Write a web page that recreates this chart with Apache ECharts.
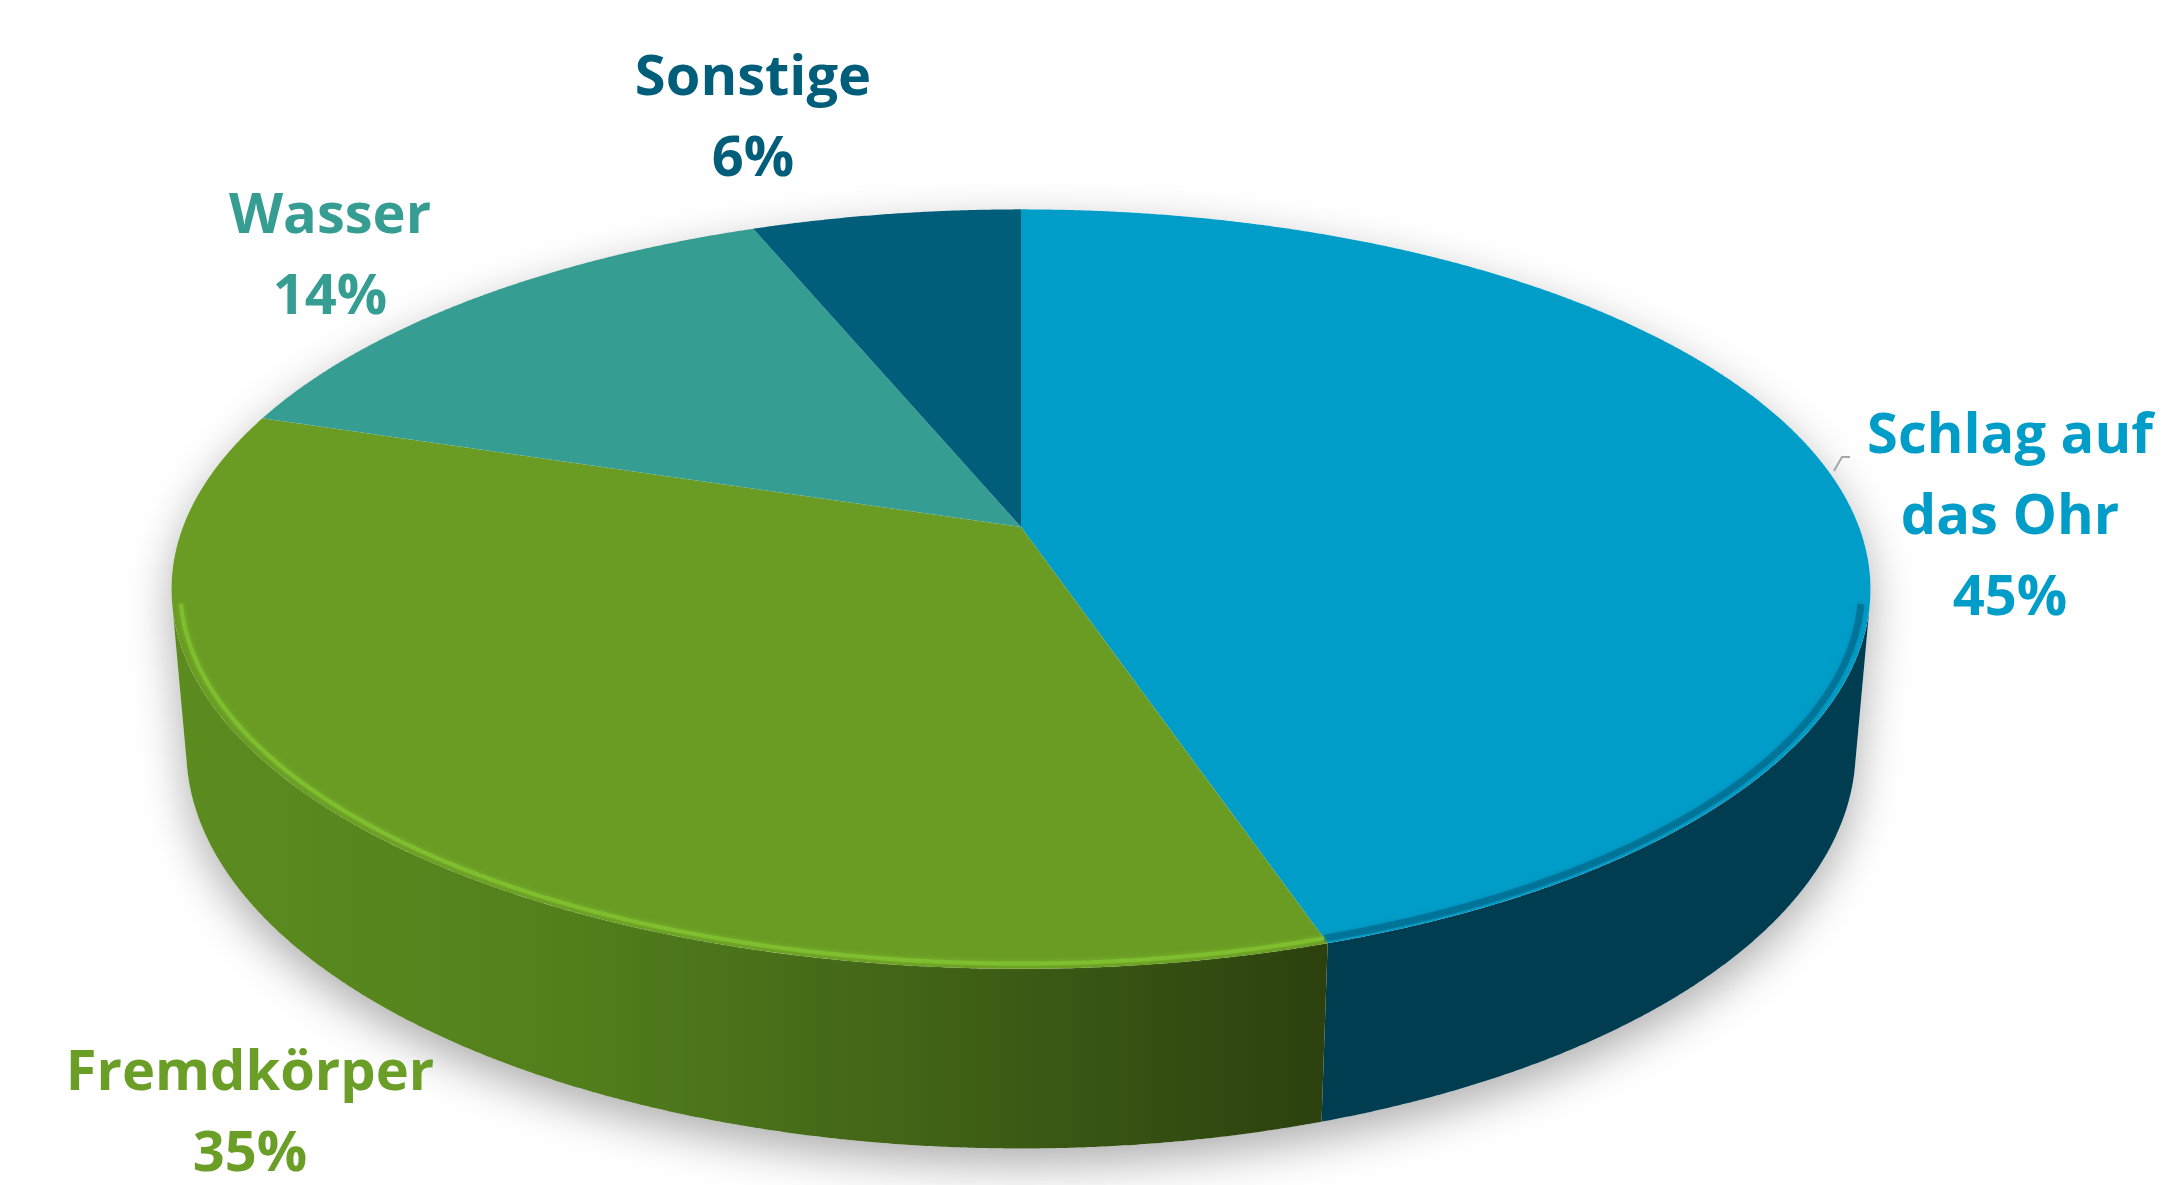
<!DOCTYPE html>
<html>
<head>
<meta charset="utf-8">
<script src="https://cdn.jsdelivr.net/npm/echarts@6/dist/echarts.min.js"></script>
<style>
  html, body { margin: 0; background: #ffffff; }
  #chart { width: 2166px; height: 1185px; }
</style>
</head>
<body>
<div id="chart"></div>
<script>
// data
const categories = ['Schlag auf\ndas Ohr', 'Fremdkörper', 'Wasser', 'Sonstige'];
const values = [45, 35, 14, 6];

// look
const topColors = ['#009dc8', '#6a9c24', '#369d92', '#005e7a'];
const labelColors = ['#009dc8', '#6a9e26', '#369d92', '#005e7a'];
const labelAt = [[2010, 518], [250, 1115], [330, 258], [753, 120]]; // label centres (px)

const TOTAL = values.reduce((a, b) => a + b, 0);
const startAt = values.map((v, i) => values.slice(0, i).reduce((a, b) => a + b, 0));

// simple perspective camera for a tilted disc of radius 1
const cam = { cx: 1021, cy: 527, f: 4600, d: 5.489, s: 0.441, c: 0.8976, depth: 0.214 };
const EDGE = Math.asin(1 / (cam.d * cam.c)); // where the side wall turns away

function proj(r, a, h) {
  const u = r * Math.cos(a), v = r * Math.sin(a);
  const yc = v * cam.s + h * cam.c;
  const zc = cam.d + v * cam.c - h * cam.s;
  return [cam.cx + cam.f * u / zc, cam.cy - cam.f * yc / zc];
}
function arc(r, a0, a1, h) {
  const n = Math.max(2, Math.ceil(Math.abs(a1 - a0) / 0.004));
  const pts = [];
  for (let k = 0; k <= n; k++) pts.push(proj(r, a0 + (a1 - a0) * k / n, h));
  return pts;
}

function sideFill(i) {
  if (i === 1) {
    return {
      type: 'linear', x: 0, y: 0, x2: 1, y2: 0,
      colorStops: [
        { offset: 0, color: '#5c8c20' },
        { offset: 0.35, color: '#527f1c' },
        { offset: 0.7, color: '#3e5e16' },
        { offset: 1, color: '#2c410e' }
      ]
    };
  }
  return ['#003d50', '#2c410e', '#245f5a', '#003a4c'][i];
}
const rimColors = ['rgba(0,60,85,0.35)', 'rgba(128,192,48,0.9)', 'rgba(0,0,0,0.2)', 'rgba(0,0,0,0.2)'];

function renderItem(params, api) {
  const i = params.dataIndex;
  const v = api.value(0);
  const a0 = Math.PI / 2 - 2 * Math.PI * startAt[i] / TOTAL;
  const a1 = Math.PI / 2 - 2 * Math.PI * (startAt[i] + v) / TOTAL;
  const children = [];

  if (i === 0) {
    // soft shadow under the whole disc
    const hull = arc(1, -Math.PI + EDGE, -EDGE, -cam.depth).concat(arc(1, -EDGE, Math.PI + EDGE, 0));
    children.push({
      type: 'polygon', z2: 0, silent: true,
      shape: { points: hull },
      style: { fill: '#ffffff', shadowColor: 'rgba(0,0,0,0.32)', shadowBlur: 45, shadowOffsetY: 16 }
    });
  }

  // front wall
  const lo = Math.max(a1, -Math.PI + EDGE), hi = Math.min(a0, -EDGE);
  if (lo < hi) {
    const pts = arc(1, hi, lo, 0).concat(arc(1, lo, hi, -cam.depth));
    children.push({ type: 'polygon', z2: 5, shape: { points: pts }, style: { fill: sideFill(i) } });
  }

  // top face
  const top = [[cam.cx, cam.cy]].concat(arc(1, a0, a1, 0));
  children.push({ type: 'polygon', z2: 10, shape: { points: top }, style: { fill: topColors[i] } });

  // bevel on the front rim
  if (lo < hi) {
    children.push({
      type: 'polyline', z2: 11, silent: true,
      shape: { points: arc(0.99, hi, lo, 0) },
      style: { stroke: rimColors[i], lineWidth: i === 0 ? 7 : 4, fill: null, shadowBlur: 5, shadowColor: rimColors[i] }
    });
  }

  // label
  const [lx, ly] = labelAt[i];
  children.push({
    type: 'text', z2: 20,
    style: {
      text: categories[i] + '\n' + v + '%',
      x: lx, y: ly, align: 'center', verticalAlign: 'middle',
      fill: labelColors[i], fontFamily: '"Open Sans"', fontWeight: 'bold', fontSize: 56, lineHeight: 81
    }
  });
  if (i === 0) {
    children.push({
      type: 'polyline', z2: 20, silent: true,
      shape: { points: [[lx - 176, ly - 47], [lx - 168, ly - 61], [lx - 160, ly - 61]] },
      style: { stroke: '#a6a6a6', lineWidth: 2, fill: null }
    });
  }
  return { type: 'group', children };
}

const myChart = echarts.init(document.getElementById('chart'));
myChart.setOption({
  animation: false,
  series: [{
    type: 'custom',
    coordinateSystem: 'none',
    renderItem: renderItem,
    data: values.map((v, i) => ({ name: categories[i], value: v }))
  }]
});
</script>
</body>
</html>
